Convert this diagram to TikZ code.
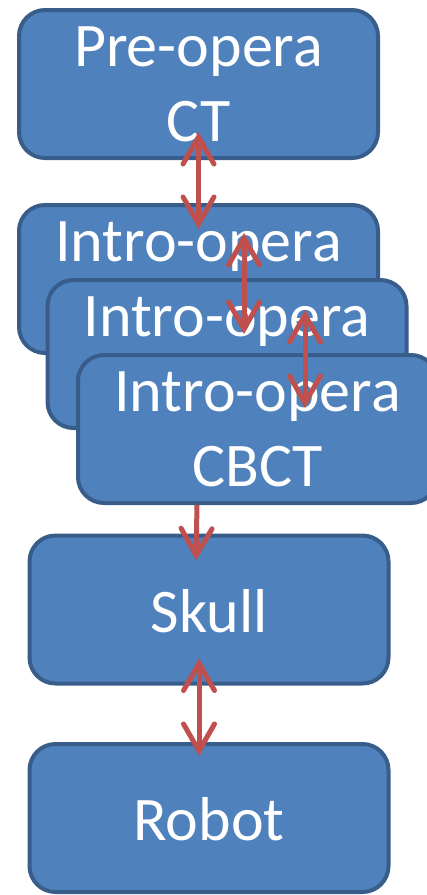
\documentclass[tikz,border=0pt]{standalone}
\usepackage{fontspec}
\setmainfont{Carlito}
\usepackage{xcolor}
\usepackage{tikz}
\usetikzlibrary{positioning, arrows.meta}
\definecolor{stageblue}{HTML}{4F81BD}
\definecolor{stageedge}{HTML}{385D8A}
\definecolor{linkred}{HTML}{C0504D}
\tikzset{
  stage/.style={fill=stageblue, draw=stageedge, line width=4pt, rounded corners=26pt,
        minimum width=359pt, minimum height=148pt, inner sep=0pt, align=center,
        text=white, font=\fontsize{62}{75}\selectfont,
        execute at begin node=\rule{0pt}{46pt}},
  link/.style={draw=linkred, line width=5pt,
        >={Straight Barb[length=27pt, width=31pt, line cap=round, line join=miter]}}
}

\begin{document}
\begin{tikzpicture}[x=1pt, y=-1pt]
    \useasboundingbox (0,0) rectangle (427,895);
    % stages, back to front
    \node[stage] (preop) at (198.5,84) {Pre-opera\\CT};
    \node[stage] (introa) at (198.5,279) {Intro-opera\\\phantom{CBCT}};
    \node[stage] (introb) at (227,354) {Intro-opera\\\phantom{CBCT}};
    \node[stage] (introc) at (257.5,429) {Intro-opera\\CBCT};
    \node[stage] (skull) at (209,609.5) {Skull};
    \node[stage] (robot) at (209,818) {Robot};

    % links
    \draw[link, <->] ([yshift=28pt]preop.south) -- ([yshift=-26pt]introa.north);
    \draw[link, <->] ([xshift=45.5pt, yshift=-30pt]introa.north) -- ([xshift=17pt, yshift=-56pt]introb.north);
    \draw[link, <->] ([xshift=78pt, yshift=-32pt]introb.north) -- ([xshift=47.5pt, yshift=-55pt]introc.north);
    \draw[link, ->] ([xshift=-60.5pt]introc.south) -- ([xshift=-13pt, yshift=-27pt]skull.north);
    \draw[link, <->] ([xshift=-10pt, yshift=27pt]skull.south) -- ([xshift=-10pt, yshift=-14pt]robot.north);
\end{tikzpicture}
\end{document}
